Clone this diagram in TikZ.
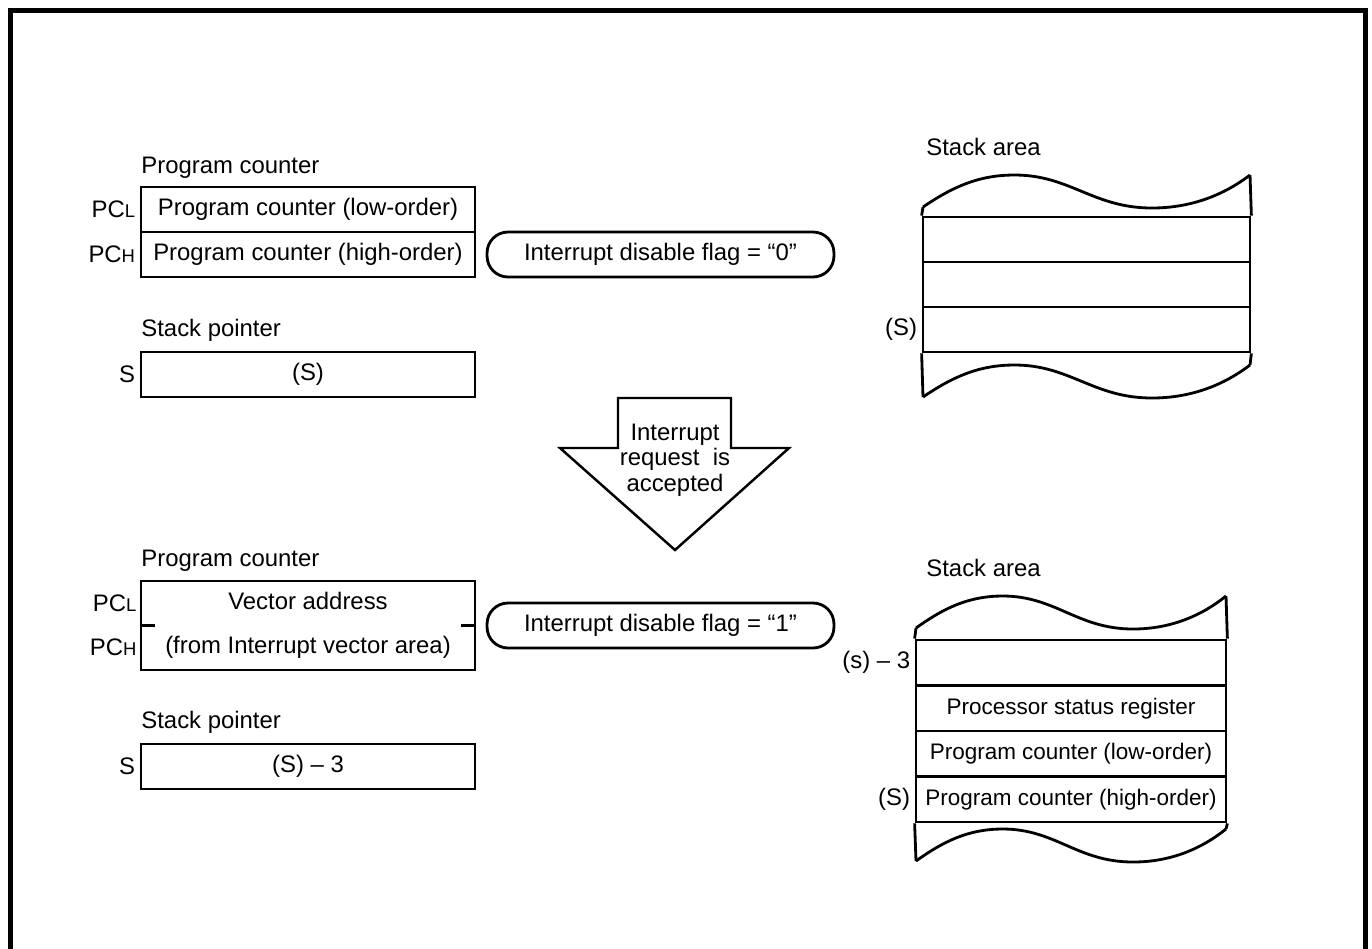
\documentclass[tikz,border=0pt]{standalone}
\usepackage{fontspec}
\setmainfont{Liberation Sans}

% wavy torn edge of a stack: left x, width, top y of the wave
\newcommand{\stackwave}[3]{%
  \draw (#1,#3+32) .. controls ({#1+0.09*#2},#3+12) and ({#1+0.17*#2},#3) .. ({#1+0.28*#2},#3)
    .. controls ({#1+0.45*#2},#3) and ({#1+0.52*#2},#3+33) .. ({#1+0.70*#2},#3+33)
    .. controls ({#1+0.82*#2},#3+33) and ({#1+0.92*#2},#3+20) .. ({#1+#2},#3);}

\begin{document}
\begin{tikzpicture}[x=0.02cm,y=-0.02cm,font=\fontsize{13.6}{16}\selectfont,line width=1.6pt,
  title/.style={anchor=base west,inner sep=0pt},
  side/.style={anchor=east,inner sep=0pt,xshift=-1.8pt},
  regbox/.style={draw,minimum width=6.68cm,minimum height=0.9cm,inner sep=0pt},
  pill/.style={draw,rounded corners=0.42cm,minimum width=6.94cm,minimum height=0.9cm,inner sep=0pt},
  cella/.style={draw,minimum width=6.54cm,minimum height=0.9cm,inner sep=0pt},
  cellb/.style={draw,minimum width=6.2cm,minimum height=0.91cm,inner sep=0pt,font=\fontsize{12.8}{15}\selectfont}]
  \useasboundingbox (0,0) rectangle (1372,948);
  \draw[line width=2.8pt] (10.5,960) -- (10.5,10.5) -- (1365.5,10.5) -- (1365.5,960);

  % before the interrupt
  \node[title] (pctitle) at (140,173) {Program counter};
  \node[regbox] (pcl) at (308,209.5) {Program counter (low-order)};
  \node[regbox] (pch) at (308,254.5) {Program counter (high-order)};
  \node[side] (pcllab) at (pcl.west) {PC{\fontsize{10.5}{12}\selectfont L}};
  \node[side] (pchlab) at (pch.west) {PC{\fontsize{10.5}{12}\selectfont H}};
  \node[title] (sptitle) at (140,336.7) {Stack pointer};
  \node[regbox] (sp) at (308,374.5) {(S)};
  \node[side] (splab) at (sp.west) {S};
  \node[pill] (flag0) at (660.5,254.5) {Interrupt disable flag = “0”};

  \node[title] (satitle) at (925,155) {Stack area};
  \foreach \i/\y in {1/239.5,2/284.5,3/329.5}
    \node[cella] (a\i) at (1086.5,\y) {};
  \stackwave{923}{327}{175}
  \draw (a1.north west) -- (923,207);
  \draw (a1.north east) -- (1250,175);
  \stackwave{923}{327}{365}
  \draw (a3.south west) -- (923,397);
  \draw (a3.south east) -- (1250,365);
  \node[side] (a3lab) at (a3.west) {(S)};

  % the big arrow
  \draw[line width=1.4pt] (618,398) -- (731,398) -- (731,448) -- (789,448) -- (675,550)
    -- (560,448) -- (618,448) -- cycle;
  \node[align=center,font=\fontsize{13.6}{14.4}\selectfont] (irq) at (675,460)
    {Interrupt\\request\ \ is\\accepted};

  % after the interrupt
  \node[title] (pctitle2) at (140,566) {Program counter};
  \node[regbox,minimum height=1.78cm,align=center,font=\fontsize{13.6}{24.9}\selectfont] (pcv)
    at (308,625.5) {Vector address\\(from Interrupt vector area)};
  \draw (pcv.west) -- ++(15.7,0);
  \draw (pcv.east) -- ++(-15,0);
  \node[side] (pcl2lab) at (141,603) {PC{\fontsize{10.5}{12}\selectfont L}};
  \node[side] (pch2lab) at (141,647) {PC{\fontsize{10.5}{12}\selectfont H}};
  \node[title] (sptitle2) at (140,728.3) {Stack pointer};
  \node[regbox] (sp2) at (308,766.5) {(S) – 3};
  \node[side] (sp2lab) at (sp2.west) {S};
  \node[pill] (flag1) at (660.5,625.5) {Interrupt disable flag = “1”};

  \node[title] (satitle2) at (925,576) {Stack area};
  \foreach \i/\y/\t in {1/662.75/{},2/708.25/Processor status register,
      3/753.75/Program counter (low-order),4/799.25/Program counter (high-order)}
    \node[cellb] (b\i) at (1071,\y) {\t};
  \stackwave{916}{310}{596}
  \draw (b1.north west) -- (916,628);
  \draw (b1.north east) -- (1226,596);
  \stackwave{916}{310}{829}
  \draw (b4.south west) -- (916,861);
  \draw (b4.south east) -- (1226,829);
  \node[side] (b1lab) at (b1.west) {(s) – 3};
  \node[side] (b4lab) at (b4.west) {(S)};
\end{tikzpicture}
\end{document}
